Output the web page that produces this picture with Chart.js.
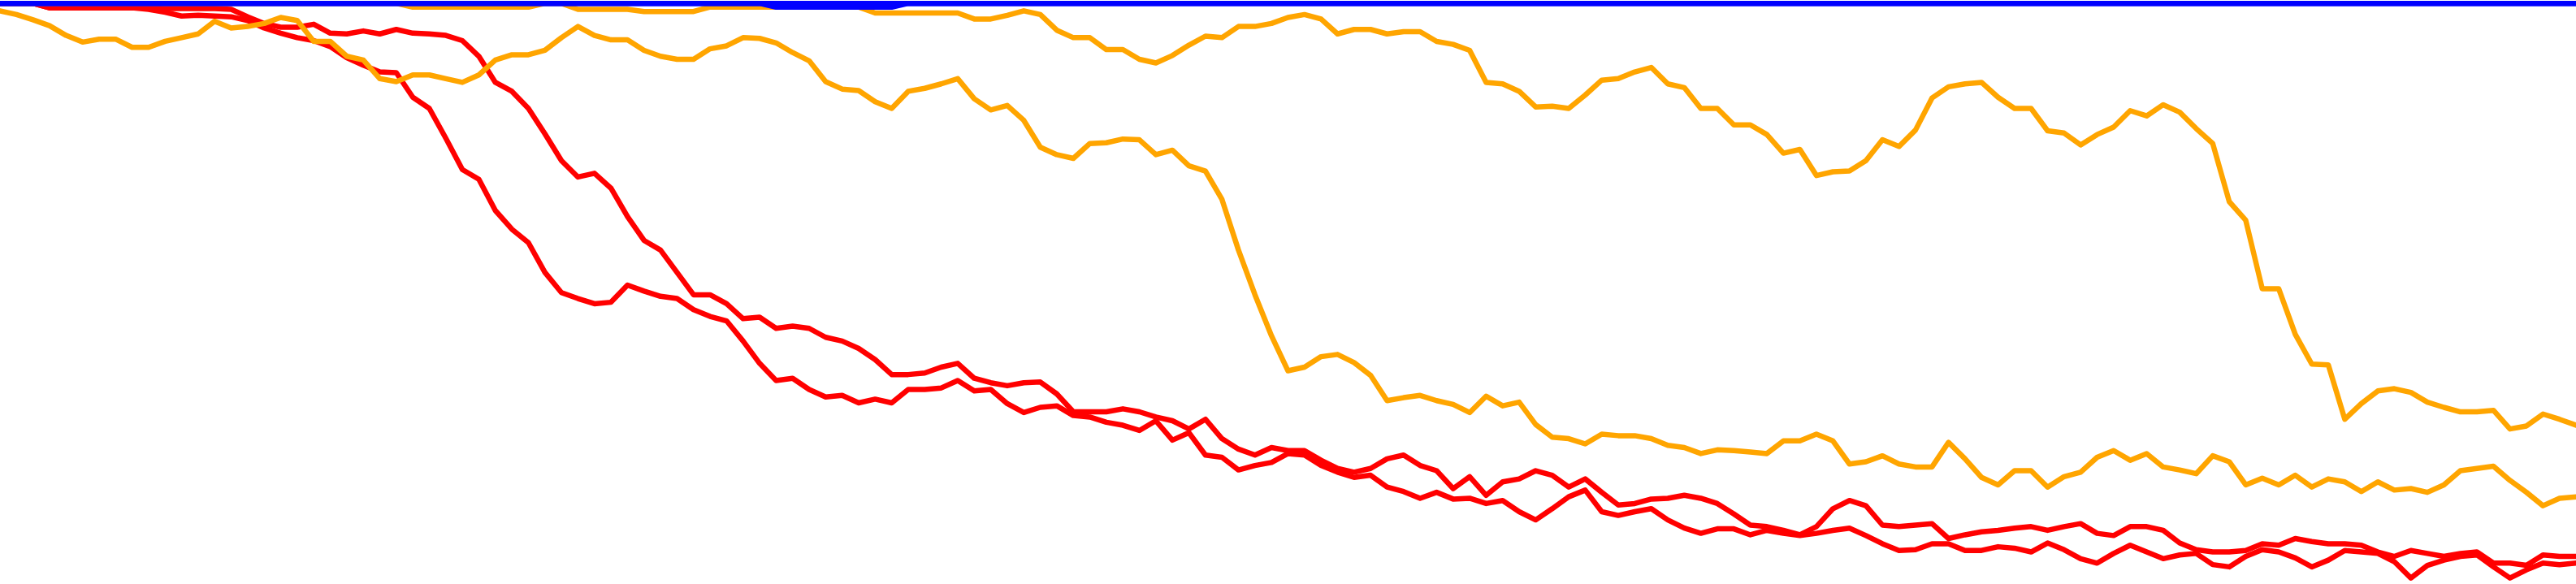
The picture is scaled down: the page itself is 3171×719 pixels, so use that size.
<!DOCTYPE html>
<html lang="en">
<head>
    <meta charset="UTF-8">
    <title>Drawdown</title>
    <script src="https://cdn.jsdelivr.net/npm/chart.js"></script>
    <style>
        html, body { margin: 0; padding: 0; background: #fff; overflow: hidden; }
        canvas { display: block; }
    </style>
</head>
<body>
    <canvas id="ddChart" width="3171" height="719"></canvas>
    <script>
        // drawdown in %, one value per sampled day
        const days = Array.from({ length: 157 }, (_, i) => i);

        const blueA = [
            0,0,0,0,0,0,0,0,0,0, 0,0,0,0,0,0,0,0,0,0, 0,0,0,0,0,0,0,0,0,0, 0,0,0,0,0,0,0,0,0,0,
            0,0,0,0,0,0,0,0,0,0, 0,0,0,0,0,0,0,0,0,0, 0,0,0,0,0,0,0,0,0,0, 0,0,0,0,0,0,0,0,0,0,
            0,0,0,0,0,0,0,0,0,0, 0,0,0,0,0,0,0,0,0,0, 0,0,0,0,0,0,0,0,0,0, 0,0,0,0,0,0,0,0,0,0,
            0,0,0,0,0,0,0,0,0,0, 0,0,0,0,0,0,0,0,0,0, 0,0,0,0,0,0,0,0,0,0, 0,0,0,0,0,0,0
        ];
        const blueB = [
            0,0,0,0,0,0,0,0,0,0, 0,0,0,0,0,0,0,0,0,0, 0,0,0,0,0,0,0,0,0,0, 0,0,0,0,0,0,0,0,0,0,
            0,0,0,0,0,0,0,-0.5,-0.5,-0.5, -0.5,-0.5,-0.5,-0.5,-0.5,0,0,0,0,0, 0,0,0,0,0,0,0,0,0,0, 0,0,0,0,0,0,0,0,0,0,
            0,0,0,0,0,0,0,0,0,0, 0,0,0,0,0,0,0,0,0,0, 0,0,0,0,0,0,0,0,0,0, 0,0,0,0,0,0,0,0,0,0,
            0,0,0,0,0,0,0,0,0,0, 0,0,0,0,0,0,0,0,0,0, 0,0,0,0,0,0,0,0,0,0, 0,0,0,0,0,0,0
        ];
        const orangeA = [
            -1.0,-1.5,-2.2,-3.0,-4.3,-5.2,-4.8,-4.8,-5.9,-5.9,
            -5.1,-4.6,-4.1,-2.4,-3.3,-3.1,-2.7,-1.9,-2.3,-5.1,
            -5.1,-7.1,-7.6,-10.1,-10.5,-9.6,-9.6,-10.1,-10.6,-9.6,
            -7.6,-6.9,-6.9,-6.3,-4.6,-3.1,-4.3,-4.9,-4.9,-6.3,
            -7.1,-7.5,-7.5,-6.1,-5.7,-4.6,-4.7,-5.3,-6.6,-7.7,
            -10.5,-11.5,-11.7,-13.2,-14.1,-11.8,-11.4,-10.8,-10.1,-12.8,
            -14.3,-13.7,-15.7,-19.3,-20.3,-20.8,-18.8,-18.7,-18.2,-18.3,
            -20.3,-19.7,-21.8,-22.5,-26.3,-33.1,-39.1,-44.6,-49.3,-48.8,
            -47.4,-47.1,-48.2,-49.9,-53.3,-52.9,-52.6,-53.3,-53.8,-54.9,
            -52.7,-54.0,-53.5,-56.5,-58.2,-58.4,-59.1,-57.8,-58.0,-58.0,
            -58.4,-59.3,-59.6,-60.4,-59.9,-60.0,-60.2,-60.4,-58.7,-58.7,
            -57.8,-58.7,-61.8,-61.5,-60.7,-61.8,-62.2,-62.2,-58.9,-61.1,
            -63.6,-64.6,-62.7,-62.7,-64.9,-63.5,-62.9,-60.9,-60.0,-61.3,
            -60.4,-62.2,-62.6,-63.1,-60.7,-61.5,-64.6,-63.7,-64.6,-63.3,
            -64.9,-63.8,-64.2,-65.5,-64.2,-65.3,-65.1,-65.6,-64.6,-62.7,
            -62.4,-62.1,-64.0,-65.6,-67.4,-66.4,-66.2
        ];
        const orangeB = [
            0,0,0,0,0,0,0,0,0,0,
            0,0,0,0,0,0,0,0,0,0,
            0,0,0,0,0,-0.5,-0.5,-0.5,-0.5,-0.5,
            -0.5,-0.5,-0.5,0,0,-0.8,-0.8,-0.8,-0.8,-1.1,
            -1.1,-1.1,-1.1,-0.5,-0.5,-0.5,-0.5,-0.5,-0.5,-0.5,
            -0.5,-0.5,-0.5,-1.3,-1.3,-1.3,-1.3,-1.3,-1.3,-2.1,
            -2.1,-1.6,-1.0,-1.5,-3.6,-4.6,-4.6,-6.2,-6.2,-7.5,
            -8.0,-7.0,-5.6,-4.4,-4.6,-3.1,-3.1,-2.7,-1.9,-1.5,
            -2.1,-4.1,-3.5,-3.5,-4.1,-3.8,-3.8,-5.1,-5.5,-6.3,
            -10.6,-10.8,-11.8,-13.9,-13.8,-14.1,-12.3,-10.3,-10.1,-9.2,
            -8.6,-10.8,-11.3,-14.1,-14.1,-16.3,-16.3,-17.6,-20.1,-19.6,
            -23.1,-22.6,-22.5,-21.1,-18.3,-19.2,-17.0,-12.7,-11.2,-10.8,
            -10.6,-12.6,-14.1,-14.1,-17.1,-17.4,-19.0,-17.6,-16.6,-14.4,
            -15.1,-13.6,-14.6,-16.8,-18.8,-26.6,-29.1,-38.3,-38.3,-44.4,
            -48.4,-48.5,-55.8,-53.7,-52.0,-51.7,-52.2,-53.5,-54.2,-54.8,
            -54.8,-54.6,-57.1,-56.7,-55.1,-55.8,-56.6
        ];
        const redA = [
            0,0,0,-0.6,-0.6,-0.6,-0.6,-0.6,-0.6,-0.6,
            -0.7,-0.7,-0.7,-0.7,-0.8,-1.8,-2.7,-3.2,-3.2,-2.8,
            -4.0,-4.1,-3.7,-4.1,-3.5,-4.0,-4.1,-4.3,-5.0,-7.1,
            -10.6,-11.8,-14.1,-17.5,-21.1,-23.3,-22.8,-24.8,-28.6,-31.8,
            -33.1,-36.1,-39.1,-39.1,-40.3,-42.3,-42.1,-43.6,-43.3,-43.6,
            -44.8,-45.3,-46.3,-47.8,-49.8,-49.8,-49.6,-48.8,-48.3,-50.3,
            -50.9,-51.3,-50.9,-50.8,-52.4,-54.8,-54.8,-54.8,-54.4,-54.8,
            -55.5,-56.0,-57.1,-55.8,-58.4,-59.8,-60.6,-59.6,-60.0,-60.0,
            -61.3,-62.4,-62.9,-62.4,-61.1,-60.6,-62.0,-62.7,-65.1,-63.5,
            -66.0,-64.2,-63.8,-62.7,-63.3,-64.9,-63.8,-65.6,-67.3,-67.1,
            -66.5,-66.4,-66.0,-66.4,-67.1,-68.5,-70.0,-70.2,-70.7,-71.3,
            -70.2,-67.8,-66.7,-67.4,-70.0,-70.2,-70.0,-69.8,-71.8,-71.3,
            -70.9,-70.7,-70.4,-70.2,-70.7,-70.2,-69.8,-71.1,-71.4,-70.2,
            -70.2,-70.7,-72.4,-73.3,-73.6,-73.6,-73.4,-72.5,-72.7,-71.8,
            -72.2,-72.5,-72.5,-72.7,-73.6,-74.2,-73.4,-73.8,-74.2,-73.8,
            -73.6,-75.1,-75.1,-75.4,-74.0,-74.2,-74.2
        ];
        const redB = [
            0,0,0,-0.6,-0.6,-0.6,-0.6,-0.6,-0.6,-0.8,
            -1.2,-1.7,-1.6,-1.7,-1.8,-2.3,-3.3,-4.0,-4.6,-5.0,
            -5.8,-7.3,-8.3,-9.2,-9.3,-12.6,-14.1,-18.1,-22.3,-23.6,
            -27.8,-30.3,-32.1,-36.1,-38.8,-39.6,-40.3,-40.1,-37.8,-38.6,
            -39.3,-39.6,-41.1,-42.0,-42.6,-45.3,-48.3,-50.6,-50.3,-51.8,
            -52.8,-52.6,-53.6,-53.1,-53.6,-51.8,-51.8,-51.6,-50.6,-52.0,
            -51.8,-53.7,-54.9,-54.2,-54.0,-55.3,-55.5,-56.2,-56.6,-57.3,
            -56.0,-58.6,-57.6,-60.6,-60.9,-62.6,-62.0,-61.6,-60.4,-60.6,
            -62.0,-62.9,-63.6,-63.3,-64.9,-65.5,-66.4,-65.6,-66.5,-66.4,
            -67.1,-66.7,-68.2,-69.3,-67.8,-66.2,-65.3,-68.2,-68.7,-68.2,
            -67.8,-69.3,-70.4,-71.1,-70.5,-70.5,-71.3,-70.7,-71.1,-71.4,
            -71.1,-70.7,-70.4,-71.4,-72.5,-73.4,-73.3,-72.5,-72.5,-73.4,
            -73.4,-72.9,-73.1,-73.6,-72.4,-73.3,-74.5,-75.1,-73.8,-72.7,
            -73.6,-74.5,-74.0,-73.8,-75.3,-75.6,-74.2,-73.3,-73.6,-74.4,
            -75.6,-74.7,-73.4,-73.6,-73.8,-74.9,-77.1,-75.4,-74.7,-74.2,
            -74.0,-75.6,-77.1,-76.0,-75.1,-75.3,-75.1
        ];

        const yMin = -77.9;
        const yMax = 0.45;

        function line(data, color) {
            return {
                data: data,
                borderColor: color,
                borderWidth: 6.5,
                borderCapStyle: 'round',
                borderJoinStyle: 'round',
                pointRadius: 0,
                tension: 0,
                fill: false
            };
        }

        // first dataset ends up on top
        new Chart(document.getElementById('ddChart'), {
            type: 'line',
            data: {
                labels: days,
                datasets: [
                    line(blueA, '#0000ff'),
                    line(blueB, '#0000ff'),
                    line(orangeA, '#ffa500'),
                    line(orangeB, '#ffa500'),
                    line(redA, '#ff0000'),
                    line(redB, '#ff0000')
                ]
            },
            options: {
                responsive: false,
                devicePixelRatio: 1,
                animation: false,
                layout: { padding: 0 },
                plugins: {
                    legend: { display: false },
                    tooltip: { enabled: false }
                },
                scales: {
                    x: { display: false, offset: false },
                    y: { display: false, min: yMin, max: yMax }
                }
            }
        });
    </script>
</body>
</html>
